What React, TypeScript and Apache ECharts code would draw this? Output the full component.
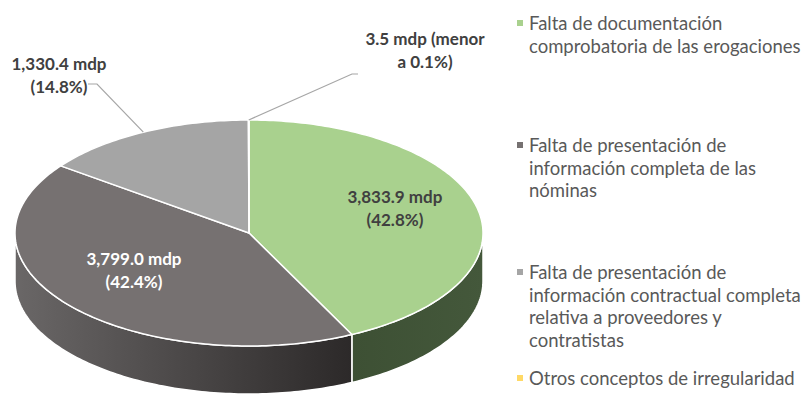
import React, { useEffect, useRef } from "react";
import * as echarts from "echarts";

// ---- data ----
const categories: string[] = [
  "Falta de documentación comprobatoria de las erogaciones",
  "Falta de presentación de información completa de las nóminas",
  "Falta de presentación de información contractual completa relativa a proveedores y contratistas",
  "Otros conceptos de irregularidad",
];
const legendLines: string[][] = [
  ["Falta de documentación", "comprobatoria de las erogaciones"],
  ["Falta de presentación de", "información completa de las", "nóminas"],
  ["Falta de presentación de", "información contractual completa", "relativa a proveedores y", "contratistas"],
  ["Otros conceptos de irregularidad"],
];
const values: number[] = [3833.9, 3799.0, 1330.4, 3.5];
const unit = "mdp";

// ---- styles / layout ----
const topColors = ["#A9D18E", "#767171", "#A5A5A5", "#FFD966"];
const sideColors = [
  ["#3d5034", "#44583b"],
  ["#6a6767", "#2c2929"],
  ["#7c7c7c", "#5a5a5a"],
  ["#bf9f3f", "#bf9f3f"],
];
const labelColors = ["#404040", "#ffffff", "#404040", "#404040"];
const CX = 249, CY = 233, RX = 234, RY = 113, DEPTH = 48;
const FONT = "Lato, 'Open Sans', sans-serif";
type LabelLayout =
  | { mode: "inside"; f: number; dy: number }
  | { mode: "outside"; x: number; y: number; leader: number[][] };
const labelLayout: LabelLayout[] = [
  { mode: "inside", f: 0.64, dy: -9 },
  { mode: "inside", f: 0.64, dy: -9 },
  { mode: "outside", x: 59, y: 75, leader: [[88, 84], [97, 84]] },
  { mode: "outside", x: 425, y: 50, leader: [[358, 74], [352, 74]] },
];
const legendY = [23, 145, 272, 378];
const LEGEND_X = 529, LEGEND_LH = 22.5;

const total = values.reduce((s, v) => s + v, 0);
const starts: number[] = [];
const ends: number[] = [];
{
  let acc = 0;
  values.forEach((v) => {
    starts.push((acc / total) * 360);
    acc += v;
    ends.push((acc / total) * 360);
  });
}

const pt = (deg: number, f = 1, dy = 0): number[] => {
  const r = (deg * Math.PI) / 180;
  return [CX + RX * f * Math.sin(r), CY - RY * f * Math.cos(r) + dy];
};
const arc = (a: number, b: number, dy = 0): number[][] => {
  const n = Math.max(2, Math.ceil(Math.abs(b - a) / 1) + 1);
  const out: number[][] = [];
  for (let k = 0; k < n; k++) out.push(pt(a + ((b - a) * k) / (n - 1), 1, dy));
  return out;
};
const fmt = (v: number) =>
  v.toLocaleString("en-US", { minimumFractionDigits: 1, maximumFractionDigits: 1 });
const labelText = (v: number) => {
  const p = (v / total) * 100;
  if (p < 0.1) return `${fmt(v)} ${unit} (menor\na 0.1%)`;
  return `${fmt(v)} ${unit}\n(${p.toFixed(1)}%)`;
};

export default function App() {
  const ref = useRef<HTMLDivElement>(null);
  useEffect(() => {
    if (!ref.current) return;
    const chart = echarts.init(ref.current, undefined, { renderer: "svg" });

    const legendGraphics: any[] = [];
    legendLines.forEach((lines, i) => {
      legendGraphics.push({
        type: "rect",
        shape: { x: 517, y: legendY[i] - 3, width: 6, height: 6 },
        style: { fill: topColors[i] },
      });
      legendGraphics.push({
        type: "text",
        x: LEGEND_X,
        y: legendY[i] - LEGEND_LH / 2,
        style: {
          text: lines.join("\n"),
          fill: "#595959",
          fontSize: 18.5,
          fontFamily: FONT,
          lineHeight: LEGEND_LH,
          verticalAlign: "top",
          align: "left",
        },
      });
    });

    chart.setOption({
      animation: false,
      backgroundColor: "#ffffff",
      graphic: legendGraphics,
      series: [
        {
          type: "custom",
          coordinateSystem: "none",
          data: values.map((v, i) => ({ name: categories[i], value: v })),
          renderItem: (params: any) => {
            const i = params.dataIndex;
            const a = starts[i], b = ends[i];
            const children: any[] = [];
            const s = Math.max(a, 90), e = Math.min(b, 270);
            if (s < e) {
              const sidePts = arc(s, e).concat(arc(e, s, DEPTH));
              children.push({
                type: "polygon",
                z2: 1,
                shape: { points: sidePts },
                style: {
                  fill: new echarts.graphic.LinearGradient(0, 0, 1, 0, [
                    { offset: 0, color: sideColors[i][0] },
                    { offset: 1, color: sideColors[i][1] },
                  ]),
                  stroke: "#ffffff",
                  lineWidth: 1.5,
                },
              });
            }
            const topPts = [[CX, CY]].concat(arc(a, b));
            children.push({
              type: "polygon",
              z2: 10,
              shape: { points: topPts },
              style: { fill: topColors[i], stroke: "#ffffff", lineWidth: 1.5, lineJoin: "round" },
            });
            const lay = labelLayout[i];
            const mid = (a + b) / 2;
            const txtStyle = {
              text: labelText(values[i]),
              fill: labelColors[i],
              fontSize: 17,
              fontWeight: "bold",
              fontFamily: FONT,
              lineHeight: 23,
              align: "center",
              verticalAlign: "middle",
            };
            if (lay.mode === "inside") {
              const p = pt(mid, lay.f, lay.dy);
              children.push({ type: "text", z2: 20, x: p[0], y: p[1], style: txtStyle });
            } else {
              children.push({
                type: "polyline",
                z2: 15,
                shape: { points: lay.leader.concat([pt(mid)]) },
                style: { stroke: "#a6a6a6", lineWidth: 1.2, fill: "none" },
              });
              children.push({ type: "text", z2: 20, x: lay.x, y: lay.y, style: txtStyle });
            }
            return { type: "group", children };
          },
        },
      ],
    });
    return () => chart.dispose();
  }, []);
  return (
    <div
      ref={ref}
      style={{ position: "fixed", left: 0, top: 0, width: 808, height: 400 }}
    />
  );
}
